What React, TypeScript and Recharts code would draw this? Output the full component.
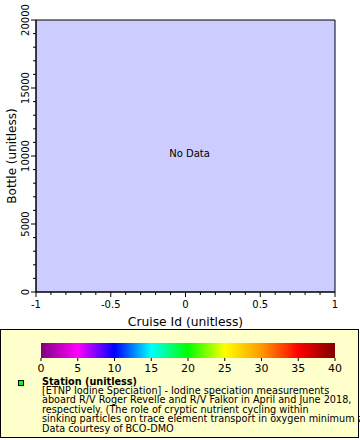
import React from 'react';
import { ScatterChart, Scatter, XAxis, YAxis, ReferenceArea, ReferenceDot } from 'recharts';

const xMajorTicks = [-1, -0.5, 0, 0.5, 1];
const xAllTicks = [-1, -0.9, -0.8, -0.7, -0.6, -0.5, -0.4, -0.3, -0.2, -0.1, 0, 0.1, 0.2, 0.3, 0.4, 0.5, 0.6, 0.7, 0.8, 0.9, 1];
const yMajorTicks = [0, 5000, 10000, 15000, 20000];
const yAllTicks = [0, 1000, 2000, 3000, 4000, 5000, 6000, 7000, 8000, 9000, 10000, 11000, 12000, 13000, 14000, 15000, 16000, 17000, 18000, 19000, 20000];
const stations: { cruise: number; bottle: number }[] = [];
const colorStops = ['#800080', '#ff00ff', '#0000ff', '#00ffff', '#00ff00', '#ffff00', '#ff9900', '#ff0000', '#800000'];
const colorLabels = [0, 5, 10, 15, 20, 25, 30, 35, 40];
const legendLines = [
  '[ETNP Iodine Speciation] - Iodine speciation measurements',
  'aboard R/V Roger Revelle and R/V Falkor in April and June 2018,',
  'respectively. (The role of cryptic nutrient cycling within',
  'sinking particles on trace element transport in oxygen minimum zones)',
  'Data courtesy of BCO-DMO',
];

const font = '"DejaVu Sans", sans-serif';

function XTick(props: any) {
  const { x, y, payload } = props;
  const major = xMajorTicks.includes(payload.value);
  return (
    <g>
      <line x1={x} y1={y} x2={x} y2={y + (major ? 5 : 3)} stroke="#000" />
      {major && (
        <text x={x} y={y + 16} textAnchor="middle" fontSize={10} fontFamily={font} fill="#000">
          {payload.value}
        </text>
      )}
    </g>
  );
}

function YTick(props: any) {
  const { x, y, payload } = props;
  const major = yMajorTicks.includes(payload.value);
  return (
    <g>
      <line x1={x} y1={y} x2={x - (major ? 5 : 3)} y2={y} stroke="#000" />
      {major && (
        <text
          x={x - 7}
          y={y}
          transform={`rotate(-90 ${x - 7} ${y})`}
          textAnchor="middle"
          fontSize={10}
          fontFamily={font}
          fill="#000"
        >
          {payload.value}
        </text>
      )}
    </g>
  );
}

function ColorLegend() {
  const barX = 41;
  const barW = 294;
  return (
    <svg width={360} height={112} style={{ position: 'absolute', left: 0, top: 328 }}>
      <defs>
        <linearGradient id="cbar" x1="0" x2="1" y1="0" y2="0">
          {colorStops.map((c, i) => (
            <stop key={i} offset={`${(i / (colorStops.length - 1)) * 100}%`} stopColor={c} />
          ))}
        </linearGradient>
      </defs>
      <rect x={0.5} y={1.5} width={358} height={108} fill="#ffffcc" stroke="#000" />
      <rect x={barX} y={15} width={barW} height={15} fill="url(#cbar)" />
      {colorLabels.map((v, i) => {
        const px = barX + (i / (colorLabels.length - 1)) * barW;
        return (
          <g key={v}>
            <line x1={px} y1={30} x2={px} y2={33} stroke="#000" />
            <text x={px} y={44} textAnchor="middle" fontSize={11} fontFamily={font} fill="#000">
              {v}
            </text>
          </g>
        );
      })}
      <rect x={18.5} y={52.5} width={5} height={5} fill="#00ff00" stroke="#000" />
      <text x={42} y={57} fontSize={9.7} fontWeight="bold" fontFamily={font} fill="#000">
        Station (unitless)
      </text>
      {legendLines.map((t, i) => (
        <text key={i} x={42} y={66 + i * 9.4} fontSize={9.7} fontFamily={font} fill="#000">
          {t}
        </text>
      ))}
    </svg>
  );
}

export default function App() {
  return (
    <div style={{ position: 'absolute', left: 0, top: 0, width: 360, height: 440, background: '#fff' }}>
      <ScatterChart width={360} height={330} margin={{ top: 20, right: 25, left: 0, bottom: 0 }}>
        <ReferenceArea
          x1={-1}
          x2={1}
          y1={0}
          y2={20000}
          fill="#ccccff"
          fillOpacity={1}
          stroke="#000"
          strokeOpacity={1}
          ifOverflow="extendDomain"
        />
        <XAxis
          type="number"
          dataKey="cruise"
          domain={[-1, 1]}
          ticks={xAllTicks}
          interval={0}
          allowDataOverflow
          height={38}
          tickLine={false}
          tickSize={0}
          tickMargin={0}
          axisLine={{ stroke: '#000' }}
          tick={<XTick />}
          label={{
            value: 'Cruise Id (unitless)',
            position: 'insideBottom',
            offset: 4,
            fontSize: 12.3,
            fontFamily: font,
            fill: '#000',
          }}
        />
        <YAxis
          type="number"
          dataKey="bottle"
          domain={[0, 20000]}
          ticks={yAllTicks}
          interval={0}
          allowDataOverflow
          width={36}
          tickLine={false}
          tickSize={0}
          tickMargin={0}
          axisLine={{ stroke: '#000' }}
          tick={<YTick />}
          label={{
            value: 'Bottle (unitless)',
            angle: -90,
            position: 'insideLeft',
            offset: 0,
            dx: 12,
            fontSize: 12,
            fontFamily: font,
            fill: '#000',
            style: { textAnchor: 'middle' },
          }}
        />
        <Scatter data={stations} fill="#00ff00" isAnimationActive={false} />
        <ReferenceDot
          x={0}
          y={10000}
          r={0}
          stroke="none"
          label={{ value: 'No Data', position: 'center', dx: 4, dy: -3, fontSize: 10, fontFamily: font, fill: '#000' }}
        />
      </ScatterChart>
      <ColorLegend />
    </div>
  );
}
